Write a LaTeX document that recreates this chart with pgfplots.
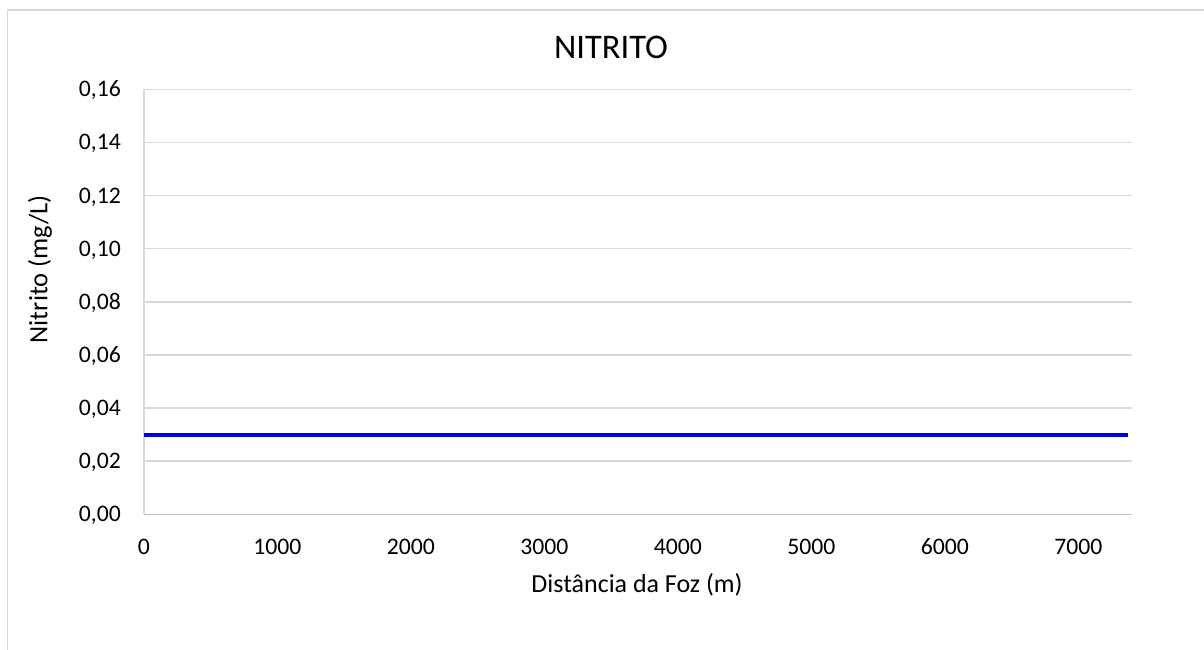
\documentclass[border=0pt]{standalone}
\usepackage{pgfplots}
\pgfplotsset{compat=1.18}
\usepackage{fontspec}
\setmainfont{Carlito}
\definecolor{gridc}{HTML}{D9D9D9}
\definecolor{axc}{HTML}{BFBFBF}
\definecolor{linec}{HTML}{0000E8}
\begin{document}
\begin{tikzpicture}[x=1pt,y=1pt]
\useasboundingbox (0,0) rectangle (1204,650);
\fill[white] (0,0) rectangle (1204,650);
\draw[gridc, line width=1.5pt] (7.5,0) -- (7.5,640) -- (1204,640);
\begin{axis}[
  at={(144pt,135.7pt)}, anchor=origin,
  scale only axis, width=987.7pt, height=425pt,
  xmin=0, xmax=7400, ymin=0, ymax=0.16,
  axis lines=left, axis line style={-},
  x axis line style={axc, line width=1.5pt},
  y axis line style={gridc, line width=1.5pt},
  ymajorgrids, grid style={gridc, line width=1.5pt},
  xtick={0,1000,...,7000},
  ytick={0,0.02,...,0.16},
  major tick length=0pt,
  /pgf/number format/assume math mode=true,
  xticklabel style={/pgf/number format/1000 sep={}, anchor=base, inner sep=0pt, yshift=-40pt, font=\fontsize{23.7}{28}\selectfont},
  yticklabel style={/pgf/number format/.cd, use comma, fixed, fixed zerofill, precision=2, /tikz/.cd, anchor=base east, inner sep=0pt, xshift=-23pt, yshift=-7.5pt, font=\fontsize{23.7}{28}\selectfont},
  scaled y ticks=false,
  xlabel={Distância da Foz (m)},
  ylabel={Nitrito (mg/L)},
  xlabel style={at={(axis description cs:0.4992,-0.1842)}, anchor=base, inner sep=0pt, font=\fontsize{26}{30}\selectfont},
  ylabel style={at={(axis description cs:-0.0979,0.5765)}, anchor=base, inner sep=0pt, rotate=0, font=\fontsize{26.5}{30}\selectfont},
  title={NITRITO},
  title style={at={(axis description cs:0.4729,1.0572)}, anchor=base, inner sep=0pt, font=\fontsize{34.5}{40}\selectfont},
  clip=false,
]
\addplot[linec, line width=4pt] coordinates {(0,0.03) (7370,0.03)};
\end{axis}
\end{tikzpicture}
\end{document}
